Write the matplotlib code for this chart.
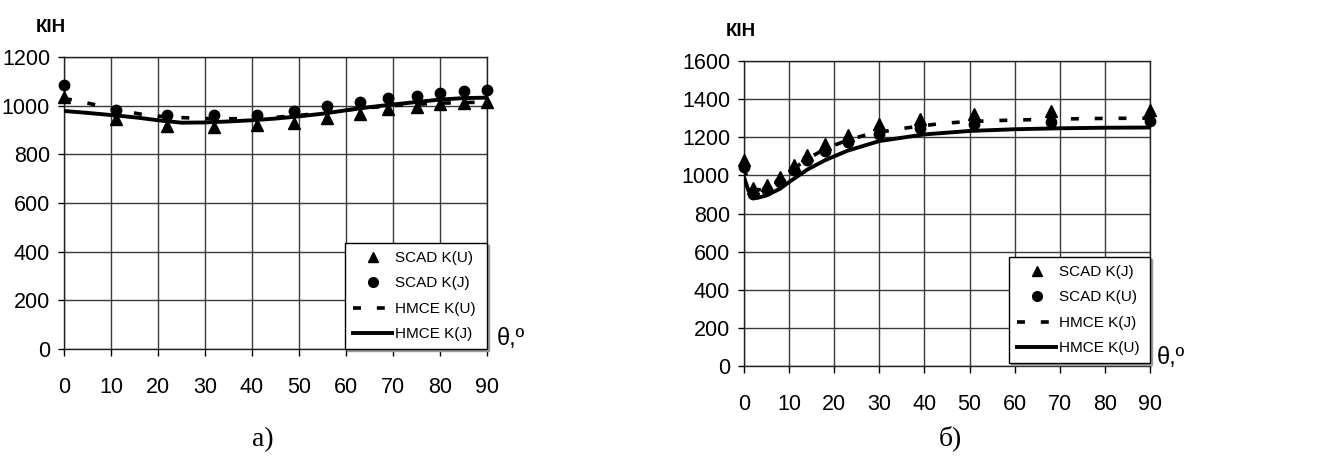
import matplotlib
matplotlib.use("Agg")
import matplotlib.pyplot as plt
from matplotlib.lines import Line2D

# ---- data: chart a) ----
theta_pts_a = [0, 11, 22, 32, 41, 49, 56, 63, 69, 75, 80, 85, 90]
scad_u_a = [1036, 945, 915, 912, 919, 929, 951, 967, 988, 995, 1005, 1011, 1015]
scad_j_a = [1084, 984, 960, 960, 963, 978, 997, 1015, 1031, 1041, 1053, 1060, 1063]

theta_line_a = [0, 4, 8, 12, 16, 20, 25, 30, 35, 40, 45, 50, 55, 60, 65, 70, 75, 80, 85, 90]
hmce_u_a = [1030, 1015, 998, 982, 966, 957, 951, 947, 946, 947, 952, 960, 970, 982, 992, 1000, 1006, 1010, 1013, 1014]
hmce_j_a = [978, 972, 965, 958, 950, 940, 930, 931, 935, 940, 947, 956, 967, 981, 994, 1005, 1015, 1025, 1031, 1033]

# ---- data: chart б) ----
theta_pts_b = [0, 2, 5, 8, 11, 14, 18, 23, 30, 39, 51, 68, 90]
scad_j_b = [1080, 935, 950, 993, 1055, 1108, 1166, 1212, 1272, 1298, 1322, 1338, 1345]
scad_u_b = [1043, 900, 925, 967, 1028, 1080, 1130, 1175, 1215, 1250, 1270, 1282, 1283]

theta_dash_b = [0, 1, 2, 4, 6, 8, 11, 14, 18, 23, 27, 30, 34, 39, 43, 47, 51, 55, 60, 68, 80, 90]
hmce_j_b = [1040, 960, 925, 925, 945, 980, 1035, 1085, 1140, 1185, 1212, 1225, 1243, 1258, 1270, 1278, 1283, 1287, 1290, 1295, 1299, 1300]

theta_solid_b = [0, 1, 2, 3, 5, 8, 10, 14, 18, 23, 30, 40, 50, 60, 70, 80, 90]
hmce_u_b = [990, 920, 885, 882, 895, 930, 965, 1030, 1080, 1130, 1180, 1215, 1233, 1242, 1247, 1250, 1251]

x_ticks = list(range(0, 91, 10))

SANS = ['Liberation Sans', 'DejaVu Sans']
SERIF = ['Liberation Serif', 'DejaVu Serif']
W, H = 1332, 457

fig = plt.figure(figsize=(13.32, 4.57), dpi=100)


def setup(ax, ymax):
    ax.set_xlim(0, 90)
    ax.set_ylim(0, ymax)
    ax.set_xticks(x_ticks)
    ax.set_yticks(range(0, ymax + 1, 200))
    ax.grid(True, color='#3a3a3a', linewidth=1)
    ax.set_axisbelow(True)
    for s in ax.spines.values():
        s.set_linewidth(1)
        s.set_color('#222222')
    ax.tick_params(axis='x', direction='out', length=5, width=1, pad=15)
    ax.tick_params(axis='y', direction='out', length=4, width=1, pad=6)
    for lab in ax.get_xticklabels() + ax.get_yticklabels():
        lab.set_family(SANS)
        lab.set_fontsize(15.5)


def draw(ax, tp, tri, circ, td, dash, ts, solid, labels, leg_box):
    ax.plot(td, dash, color='black', linewidth=2.6, dashes=(2.2, 4.4), zorder=3)
    ax.plot(ts, solid, color='black', linewidth=2.8, zorder=3)
    ax.plot(tp, tri, linestyle='none', marker='^', markersize=8, color='black', zorder=4, clip_on=False)
    ax.plot(tp, circ, linestyle='none', marker='o', markersize=7.5, color='black', zorder=4, clip_on=False)
    handles = [
        Line2D([], [], linestyle='none', marker='^', markersize=7, color='black'),
        Line2D([], [], linestyle='none', marker='o', markersize=7, color='black'),
        Line2D([], [], color='black', linewidth=2.6, dashes=(2.2, 4.4)),
        Line2D([], [], color='black', linewidth=2.8),
    ]
    leg = ax.legend(handles, labels, loc='lower right', bbox_to_anchor=leg_box, mode='expand',
                    borderaxespad=0, fancybox=False, framealpha=1, edgecolor='black',
                    prop={'family': SANS, 'size': 11}, borderpad=0.5,
                    labelspacing=0.75, handlelength=2.6, handletextpad=0.2,
                    shadow={'ox': 1.5, 'oy': -1.5, 'shade': 0.4, 'alpha': 1})
    leg.get_frame().set_linewidth(1)
    leg.set_zorder(10)


ax1 = fig.add_axes([64 / W, 1 - 349 / H, 423 / W, 292 / H])
setup(ax1, 1200)
draw(ax1, theta_pts_a, scad_u_a, scad_j_a, theta_line_a, hmce_u_a, theta_line_a, hmce_j_a,
     ['SCAD K(U)', 'SCAD K(J)', 'HMCE K(U)', 'HMCE K(J)'],
     (1 - 142 / 423, 0, 142 / 423, 0.5))

ax2 = fig.add_axes([744 / W, 1 - 366 / H, 406 / W, 305 / H])
setup(ax2, 1600)
draw(ax2, theta_pts_b, scad_j_b, scad_u_b, theta_dash_b, hmce_j_b, theta_solid_b, hmce_u_b,
     ['SCAD K(J)', 'SCAD K(U)', 'HMCE K(J)', 'HMCE K(U)'],
     (1 - 141 / 406, 3 / 305, 141 / 406, 0.5))

# axis captions
fig.text(36 / W, 1 - 28 / H, 'КІН', fontsize=13.5, fontweight='bold',
         family=SANS, ha='left', va='center')
fig.text(726 / W, 1 - 31 / H, 'КІН', fontsize=13.5, fontweight='bold',
         family=SANS, ha='left', va='center')
fig.text(497 / W, 1 - 339 / H, 'θ,º', fontsize=17, family=SANS, ha='left', va='center')
fig.text(1157 / W, 1 - 358 / H, 'θ,º', fontsize=17, family=SANS, ha='left', va='center')

# sub-figure letters
fig.text(263 / W, 1 - 440 / H, 'а)', fontsize=20, family=SERIF, ha='center', va='center')
fig.text(950 / W, 1 - 438 / H, 'б)', fontsize=20, family=SERIF, ha='center', va='center')

fig.savefig('out.png', dpi=100)
